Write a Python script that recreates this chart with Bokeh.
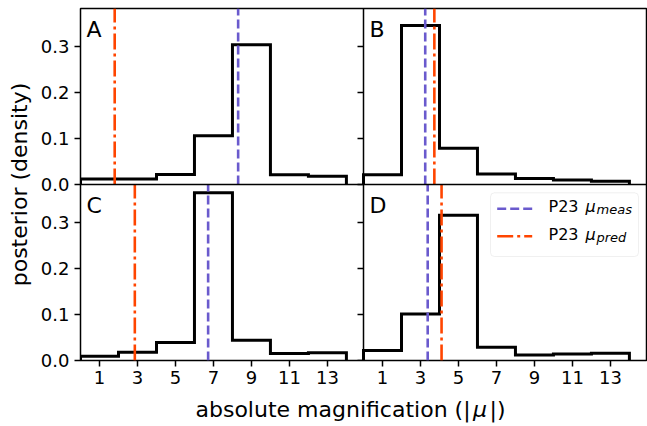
import math

from bokeh.embed import file_html
from bokeh.layouts import column
from bokeh.models import BoxAnnotation, FixedTicker, Label, LinearAxis, Range1d, Span
from bokeh.plotting import figure
from bokeh.resources import INLINE

# ---- data -------------------------------------------------------------
# histogram bin edges in absolute magnification |mu|
bin_edges = [0, 2, 4, 6, 8, 10, 12, 14]

# posterior density per bin, one list per image (A-D)
density_A = [0.012, 0.012, 0.022, 0.106, 0.304, 0.021, 0.018]
density_B = [0.021, 0.346, 0.079, 0.023, 0.013, 0.010, 0.007]
density_C = [0.009, 0.018, 0.039, 0.365, 0.044, 0.015, 0.017]
density_D = [0.022, 0.101, 0.316, 0.029, 0.012, 0.014, 0.016]

panel_names = ["A", "B", "C", "D"]
# P23 measured and predicted magnifications, per image
mu_meas = [8.3, 3.25, 6.72, 3.38]
mu_pred = [1.8, 3.73, 2.86, 4.11]

x_ticks = [1, 3, 5, 7, 9, 11, 13]
y_ticks = [0.0, 0.1, 0.2, 0.3]

# ---- layout -----------------------------------------------------------
XMAX = 14.9          # shared x limit of each panel
YMAX = 0.383         # shared y limit of each panel
WIDTH, HEIGHT = 647, 426
FRAME_L, FRAME_T = 80, 8
PANEL_W, PANEL_H = 283, 176
PLOT_H = 394         # height of the panel figure; the x title sits below it
RIGHT_B = WIDTH - FRAME_L - 2 * PANEL_W
TEXT_LIFT = 8        # baseline correction for annotation labels (px)

MEAS_COLOR = "#6a5acd"
PRED_COLOR = "#ff4500"
MEAS_DASH = "9 4"
PRED_DASH = "16 4 3 4"
FONT = "DejaVu Sans"

# each panel: (column, row) in the 2x2 grid and the named ranges it uses
panel_grid = {"A": (0, 0), "B": (1, 0), "C": (0, 1), "D": (1, 1)}
x_names = ["default", "right"]
y_names = ["top", "default"]

p = figure(
    frame_width=2 * PANEL_W, frame_height=2 * PANEL_H,
    min_border_left=FRAME_L, min_border_right=RIGHT_B,
    min_border_top=FRAME_T, min_border_bottom=PLOT_H - FRAME_T - 2 * PANEL_H,
    x_range=Range1d(0, 2 * XMAX), y_range=Range1d(0, 2 * YMAX),
    x_axis_location=None, y_axis_location=None,
    output_backend="svg", toolbar_location=None,
)
p.extra_x_ranges = {"right": Range1d(-XMAX, XMAX)}
p.extra_y_ranges = {"top": Range1d(-YMAX, YMAX)}
p.background_fill_color = "white"
p.border_fill_color = "white"
p.outline_line_color = "black"
p.outline_line_width = 1.5
p.grid.visible = False


def panel_x(name, px):
    """Canvas pixel x -> data x inside the given panel."""
    col, _ = panel_grid[name]
    return (px - FRAME_L - col * PANEL_W) / PANEL_W * XMAX


def panel_y(name, py):
    """Canvas pixel y -> data y inside the given panel."""
    _, row = panel_grid[name]
    return (FRAME_T + (row + 1) * PANEL_H - py) / PANEL_H * YMAX


def ranges(name):
    col, row = panel_grid[name]
    return dict(x_range_name=x_names[col], y_range_name=y_names[row])


densities = [density_A, density_B, density_C, density_D]

for name, dens, m, pr in zip(panel_names, densities, mu_meas, mu_pred):
    rn = ranges(name)
    # step outline of the histogram
    xs, ys = [bin_edges[0]], [0.0]
    for i, h in enumerate(dens):
        xs += [bin_edges[i], bin_edges[i + 1]]
        ys += [h, h]
    xs.append(bin_edges[-1])
    ys.append(0.0)
    p.line(xs, ys, line_color="black", line_width=3, line_join="miter", **rn)

    # vertical reference lines spanning the panel height
    p.segment(x0=[m], y0=[0], x1=[m], y1=[YMAX], line_color=MEAS_COLOR,
              line_width=2.6, line_dash=MEAS_DASH, **rn)
    p.segment(x0=[pr], y0=[0], x1=[pr], y1=[YMAX], line_color=PRED_COLOR,
              line_width=2.6, line_dash=PRED_DASH, **rn)

    # panel letter in the upper left corner
    col, row = panel_grid[name]
    left_px = FRAME_L + col * PANEL_W
    top_px = FRAME_T + row * PANEL_H
    p.add_layout(Label(x=panel_x(name, left_px + 6),
                       y=panel_y(name, top_px + 28.5 - TEXT_LIFT),
                       text=name, text_font=FONT, text_font_size="22px",
                       text_color="black", text_baseline="alphabetic", **rn))

# borders between the panels
p.add_layout(Span(location=XMAX, dimension="height", line_color="black", line_width=1.5))
p.add_layout(Span(location=YMAX, dimension="width", line_color="black", line_width=1.5))


def style_axis(ax):
    ax.axis_line_color = None
    ax.major_tick_line_color = "black"
    ax.major_tick_line_width = 1.5
    ax.major_tick_out = 6
    ax.major_tick_in = 0
    ax.minor_tick_out = 0
    ax.minor_tick_in = 0
    ax.major_label_text_font = FONT
    ax.major_label_text_font_size = "18px"
    ax.major_label_text_color = "black"


# left axis: lower panel ticks, then the upper panel ticks stacked above
left_pos = list(y_ticks) + [YMAX + t for t in y_ticks]
left_txt = [f"{t:.1f}" for t in y_ticks] * 2
yaxis = LinearAxis(ticker=FixedTicker(ticks=left_pos),
                   major_label_overrides=dict(zip(left_pos, left_txt)))
style_axis(yaxis)
yaxis.major_label_standoff = 5
yaxis.axis_label = "posterior (density)"
yaxis.axis_label_text_font = FONT
yaxis.axis_label_text_font_size = "22px"
yaxis.axis_label_text_font_style = "normal"
yaxis.axis_label_text_color = "black"
yaxis.axis_label_standoff = 6
p.add_layout(yaxis, "left")

# bottom axis: left panel ticks, then the right panel ticks
bottom_pos = list(x_ticks) + [XMAX + t for t in x_ticks]
bottom_txt = [str(t) for t in x_ticks] * 2
xaxis = LinearAxis(ticker=FixedTicker(ticks=bottom_pos),
                   major_label_overrides=dict(zip(bottom_pos, bottom_txt)))
style_axis(xaxis)
xaxis.major_label_standoff = 4
p.add_layout(xaxis, "below")

# tick marks of the right-hand panels, on the shared inner border
for yname in ["top", "default"]:
    inner = LinearAxis(y_range_name=yname, fixed_location=XMAX,
                       ticker=FixedTicker(ticks=y_ticks))
    style_axis(inner)
    inner.major_label_text_color = None
    p.add_layout(inner, "left")

# legend in panel D
leg = "D"
rn = ranges(leg)
p.add_layout(BoxAnnotation(left=panel_x(leg, 490), right=panel_x(leg, 638),
                           top=panel_y(leg, 192.3), bottom=panel_y(leg, 256),
                           fill_color="white", fill_alpha=0.8, line_color="#cccccc",
                           line_width=1, border_radius=4, level="underlay", **rn))
legend_rows = [("meas", MEAS_COLOR, MEAS_DASH, 208.3, 214.3),
               ("pred", PRED_COLOR, PRED_DASH, 235.7, 241.7)]
for sub, color, dash, line_py, base_py in legend_rows:
    p.segment(x0=[panel_x(leg, 496.7)], y0=[panel_y(leg, line_py)],
              x1=[panel_x(leg, 531.7)], y1=[panel_y(leg, line_py)],
              line_color=color, line_width=2.6, line_dash=dash, **rn)
    text_py = base_py - TEXT_LIFT
    p.add_layout(Label(x=panel_x(leg, 548), y=panel_y(leg, text_py), text="P23",
                       text_font=FONT, text_font_size="16px", text_color="black",
                       text_baseline="alphabetic", **rn))
    p.add_layout(Label(x=panel_x(leg, 585), y=panel_y(leg, text_py), text="μ",
                       text_font=FONT, text_font_style="italic", text_font_size="16px",
                       text_color="black", text_baseline="alphabetic", **rn))
    p.add_layout(Label(x=panel_x(leg, 596), y=panel_y(leg, text_py + 3), text=sub,
                       text_font=FONT, text_font_style="italic", text_font_size="13px",
                       text_color="black", text_baseline="alphabetic", **rn))

# ---- x title strip: frame lined up with the panel frame, data = canvas pixels ----
title_h = HEIGHT - PLOT_H
xt = figure(
    frame_width=2 * PANEL_W, frame_height=title_h,
    min_border_left=FRAME_L, min_border_right=RIGHT_B,
    min_border_top=0, min_border_bottom=0,
    x_range=Range1d(FRAME_L, FRAME_L + 2 * PANEL_W), y_range=Range1d(HEIGHT, PLOT_H),
    x_axis_location=None, y_axis_location=None,
    output_backend="svg", toolbar_location=None,
)
xt.grid.visible = False
xt.outline_line_color = None
xt.background_fill_color = "white"
xt.border_fill_color = "white"
base = 416.7 - TEXT_LIFT
for txt, x0, style in [("absolute magnification (|", 195, "normal"),
                       ("μ", 472.5, "italic"),
                       ("|)", 489, "normal")]:
    xt.add_layout(Label(x=x0, y=base, text=txt, text_font=FONT,
                        text_font_style=style, text_font_size="22px",
                        text_color="black", text_baseline="alphabetic"))

layout = column(p, xt, spacing=0)
open("out.html", "w").write(file_html(layout, INLINE))
